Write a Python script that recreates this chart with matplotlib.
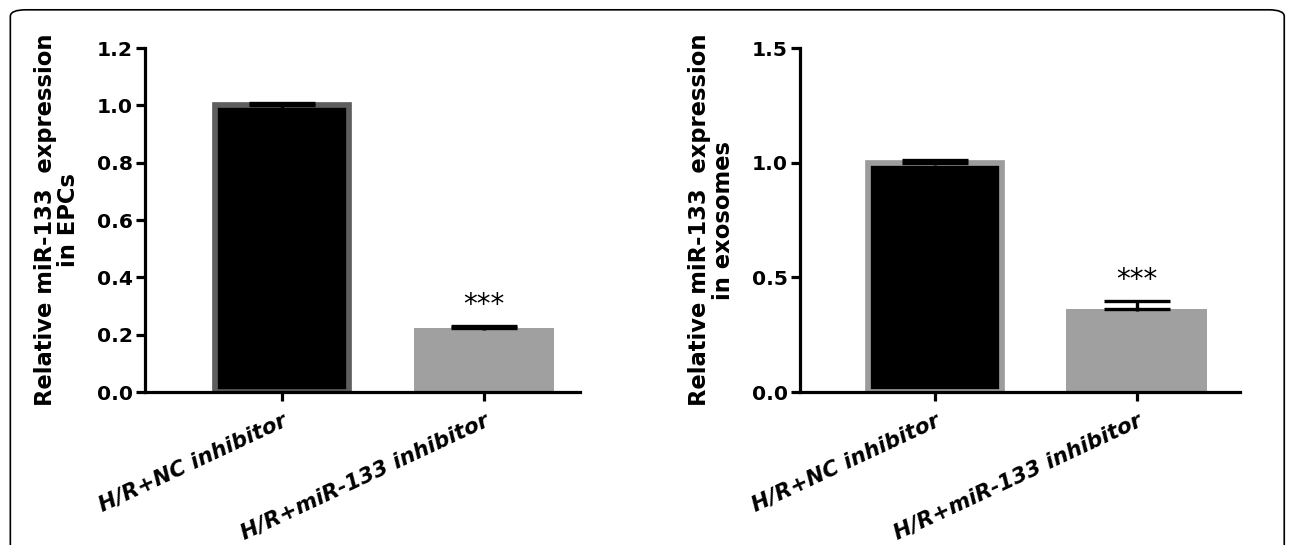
import numpy as np
import matplotlib.pyplot as plt
from matplotlib.patches import FancyBboxPatch

# data
groups = ["H/R+NC inhibitor", "H/R+miR-133 inhibitor"]
epc_mean = [1.0, 0.225]
epc_err = [0.01, 0.006]
exo_mean = [1.0, 0.362]
exo_err = [0.01, 0.036]

plt.rcParams['font.family'] = ['DejaVu Sans']
plt.rcParams['font.weight'] = 'bold'

fig = plt.figure(figsize=(12.92, 5.45), dpi=100)

# rounded frame around the panel
frame = FancyBboxPatch((0.008, -0.2), 0.986, 1.182, boxstyle="round,pad=0,rounding_size=0.012",
                       transform=fig.transFigure, fill=False, edgecolor='black', linewidth=1.2)
fig.patches.append(frame)

def panel(ax, means, errs, edge1, ylim, yticks, ylabel, xlim):
    x = np.arange(len(means))
    ax.bar(x[0], means[0], width=0.665, color='black', edgecolor=edge1, linewidth=4.1, zorder=2)
    ax.bar(x[1], means[1], width=0.697, color='#a0a0a0', linewidth=0, zorder=2)
    # only the upper half of the error bar is drawn
    for i in range(len(means)):
        ax.errorbar(x[i], means[i], yerr=[[0], [errs[i]]], color='black', capsize=24,
                    capthick=2.4, elinewidth=2.4, fmt='none', zorder=3)
        ax.errorbar(x[i], means[i], yerr=[[0.006 * ylim[1]], [0]], color='black', capsize=0,
                    elinewidth=2.4, fmt='none', zorder=3)
    ax.annotate("***", (x[1], means[1] + errs[1]), xytext=(0, 9), textcoords='offset points',
                ha='center', va='baseline', fontsize=20, fontweight='normal')
    ax.set_ylim(*ylim)
    ax.set_xlim(*xlim)
    ax.set_yticks(yticks)
    ax.set_yticklabels(["%.1f" % t for t in yticks], fontsize=14.6, fontweight='bold')
    ax.set_xticks(x)
    ax.set_xticklabels(groups, rotation=25, ha='right', rotation_mode='anchor',
                       fontsize=15.5, fontweight='bold', style='italic')
    ax.set_ylabel(ylabel, fontsize=16.3, fontweight='bold', linespacing=1.05, labelpad=12)
    for s in ['top', 'right']:
        ax.spines[s].set_visible(False)
    for s in ['left', 'bottom']:
        ax.spines[s].set_linewidth(2.3)
    ax.tick_params(width=2.3, length=6.5, direction='out', pad=2)
    ax.tick_params(axis='x', pad=7)

ax1 = fig.add_axes([0.1122, 0.2807, 0.3367, 0.631])
panel(ax1, epc_mean, epc_err, '#5e5e5e', (0, 1.2), [0.0, 0.2, 0.4, 0.6, 0.8, 1.0, 1.2],
      "Relative miR-133  expression\nin EPCs", (-0.678, 1.475))

ax2 = fig.add_axes([0.619, 0.2807, 0.3406, 0.631])
panel(ax2, exo_mean, exo_err, '#9c9c9c', (0, 1.5), [0.0, 0.5, 1.0, 1.5],
      "Relative miR-133  expression\nin exosomes", (-0.668, 1.51))

plt.savefig("out.png", dpi=100)
